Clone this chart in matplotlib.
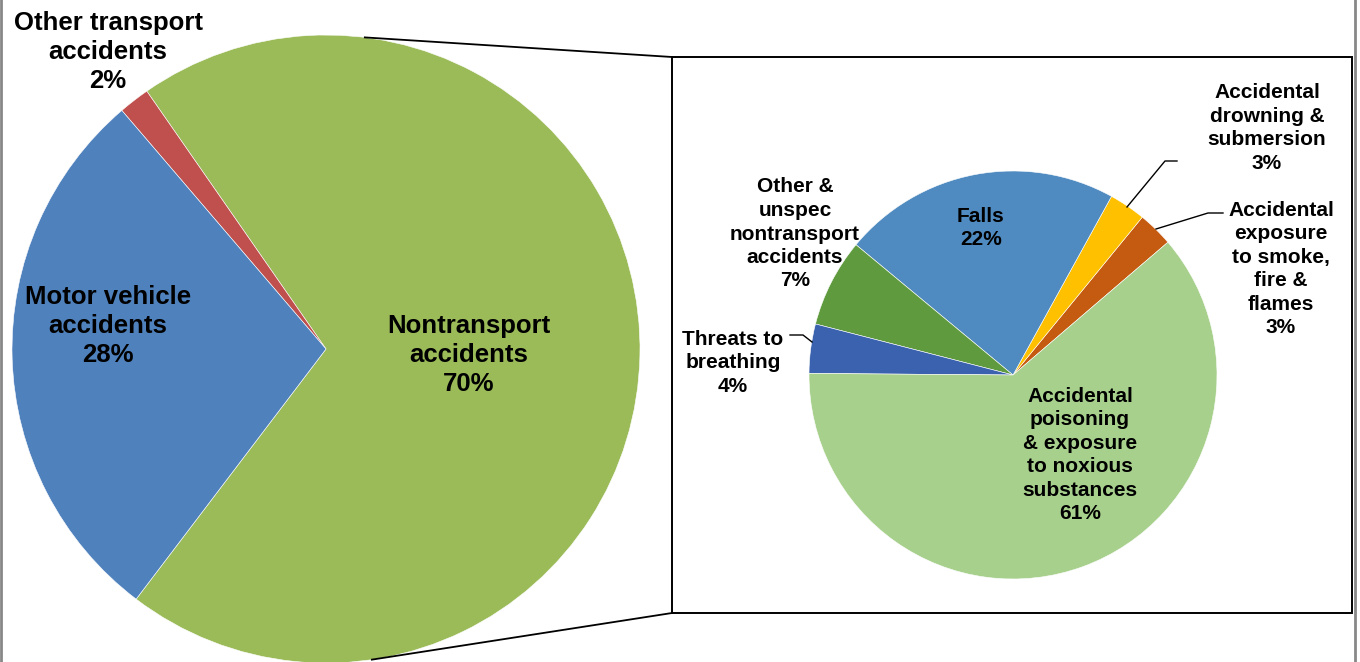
import numpy as np
import matplotlib
matplotlib.use("Agg")
import matplotlib.pyplot as plt

# ---- data ----
main_names = ["Nontransport\naccidents", "Other transport\naccidents", "Motor vehicle\naccidents"]
main_values = [70.0, 1.6, 28.4]
main_colors = ["#9BBB59", "#C0504D", "#4F81BD"]

sub_names = ["Accidental\nexposure\nto smoke,\nfire &\nflames",
             "Accidental\ndrowning &\nsubmersion",
             "Falls",
             "Other &\nunspec\nnontransport\naccidents",
             "Threats to\nbreathing",
             "Accidental\npoisoning\n& exposure\nto noxious\nsubstances"]
sub_values = [2.8, 2.9, 22.0, 7.0, 3.9, 61.4]
sub_colors = ["#C55A11", "#FFC000", "#4F8BC0", "#5F9B3E", "#3A62AE", "#A8D08D"]

W, H = 1360, 662
plt.rcParams['font.family'] = ['Liberation Sans', 'DejaVu Sans']

fig = plt.figure(figsize=(W / 100, H / 100), dpi=100)
ax = fig.add_axes([0, 0, 1, 1])

def Y(y):
    return H - y

# left pie
c1 = (326, Y(349)); r1 = 314
ax.pie(main_values, colors=main_colors, startangle=-127.2, counterclock=True,
       center=c1, radius=r1, wedgeprops=dict(linewidth=0.4, edgecolor="white"))
# right pie
c2 = (1013, Y(375)); r2 = 204
ax.pie(sub_values, colors=sub_colors, startangle=40.6, counterclock=True,
       center=c2, radius=r2, wedgeprops=dict(linewidth=0.4, edgecolor="white"))

ax.set_xlim(0, W); ax.set_ylim(0, H)
ax.set_aspect('auto')
ax.axis('off')

def pct(v):
    return f"{int(round(v))}%"

# main labels
main_pos = [(469, 355), (108, 52), (108, 326)]
for name, v, (x, y) in zip(main_names, main_values, main_pos):
    ax.text(x, Y(y), f"{name}\n{pct(v)}", ha="center", va="center",
            fontsize=18.5, fontweight="bold", linespacing=1.27)

# sub labels
sub_pos = [(1281, 269), (1267, 128), (981, 228), (795, 234), (733, 363), (1080, 455)]
for name, v, (x, y) in zip(sub_names, sub_values, sub_pos):
    ax.text(x, Y(y), f"{name}\n{pct(v)}", ha="center", va="center",
            fontsize=15, fontweight="bold", linespacing=1.3)

# leader lines
ax.plot([1127, 1165, 1177], [Y(207), Y(161), Y(161)], color="black", lw=1.0)
ax.plot([1156, 1208, 1223], [Y(229), Y(213), Y(213)], color="black", lw=1.0)
ax.plot([812, 803, 790], [Y(342), Y(335), Y(335)], color="black", lw=1.0)

# box around second pie
bx0, by0, bx1, by1 = 672, 57, 1352, 613
ax.plot([bx0, bx1, bx1, bx0, bx0], [Y(by0), Y(by0), Y(by1), Y(by1), Y(by0)],
        color="black", lw=1.4, solid_joinstyle="miter")

# connector lines
a_top = np.deg2rad(82.9); a_bot = np.deg2rad(-81.6)
ax.plot([c1[0] + r1 * np.cos(a_top), bx0], [c1[1] + r1 * np.sin(a_top), Y(by0)], color="black", lw=1.3)
ax.plot([c1[0] + r1 * np.cos(a_bot), bx0], [c1[1] + r1 * np.sin(a_bot), Y(by1)], color="black", lw=1.3)

# outer gray border lines
ax.plot([1, 1], [0, H], color="#888888", lw=2)
ax.plot([1355, 1355], [0, H], color="#888888", lw=2)

fig.savefig("out.png", dpi=100)
